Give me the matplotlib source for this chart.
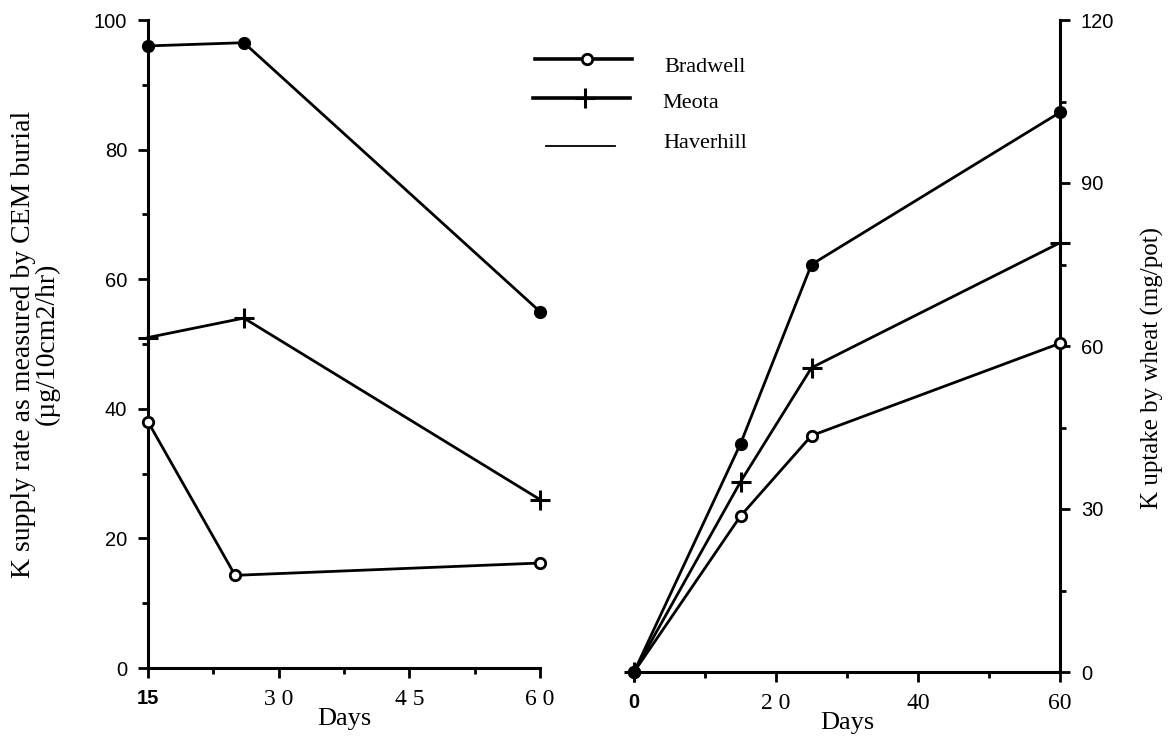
import matplotlib
matplotlib.use("Agg")
import matplotlib.pyplot as plt
from matplotlib.lines import Line2D
from matplotlib.ticker import FixedLocator

# ---------------- data ----------------
left_days_bradwell = [15, 25, 60]
left_days = [15, 26, 60]
left_bradwell = [38, 14.3, 16.2]
left_meota = [51, 54, 26]
left_haverhill = [96, 96.5, 55]

right_days = [0, 15, 25, 60]
right_bradwell = [0, 28.7, 43.5, 60.5]
right_meota = [0, 35, 56, 79]
right_haverhill = [0, 42, 75, 103]

left_xticks = [15, 30, 45, 60]
left_xticklabels = ["15", "3 0", "4 5", "6 0"]
left_xminor = [22.5, 37.5, 52.5]
left_yticks = [0, 20, 40, 60, 80, 100]
left_yminor = [10, 30, 50, 70, 90]
right_xticks = [0, 20, 40, 60]
right_xticklabels = ["0", "2 0", "40", "60"]
right_xminor = [10, 30, 50]
right_yticks = [0, 30, 60, 90, 120]
right_yminor = [15, 45, 75, 105]

series_names = ["Bradwell", "Meota", "Haverhill"]

SERIF = "Liberation Serif"
SANS = "Liberation Sans"

W, H = 1168, 746
fig = plt.figure(figsize=(W / 100, H / 100), dpi=100)

def px_rect(x0, x1, y_top, y_bot):
    return [x0 / W, 1 - y_bot / H, (x1 - x0) / W, (y_bot - y_top) / H]

axL = fig.add_axes(px_rect(148, 540, 20, 668))
axR = fig.add_axes(px_rect(634, 1060, 20, 672))

LW = 2.0
brad_kw = dict(color="black", lw=LW, marker="o", ms=7.5, mfc="white", mec="black", mew=2.0, clip_on=False, zorder=3)
meota_kw = dict(color="black", lw=LW, marker="+", ms=14, mew=2.2, clip_on=False, zorder=3)
hav_kw = dict(color="black", lw=LW, marker="o", ms=8.5, mfc="black", mec="black", clip_on=False, zorder=3)

# left panel
axL.plot(left_days_bradwell, left_bradwell, **brad_kw)
axL.plot(left_days, left_meota, **meota_kw)
axL.plot(left_days, left_haverhill, **hav_kw)
axL.set_xlim(15, 60)
axL.set_ylim(0, 100)
axL.spines["top"].set_visible(False)
axL.spines["right"].set_visible(False)
axL.xaxis.set_major_locator(FixedLocator(left_xticks))
axL.xaxis.set_minor_locator(FixedLocator(left_xminor))
axL.yaxis.set_major_locator(FixedLocator(left_yticks))
axL.yaxis.set_minor_locator(FixedLocator(left_yminor))
axL.set_xticklabels(left_xticklabels)

# right panel
axR.plot(right_days, right_bradwell, **brad_kw)
axR.plot(right_days, right_meota, **meota_kw)
axR.plot(right_days, right_haverhill, **hav_kw)
axR.set_xlim(0, 60)
axR.set_ylim(0, 120)
axR.spines["top"].set_visible(False)
axR.spines["left"].set_visible(False)
axR.yaxis.tick_right()
axR.yaxis.set_label_position("right")
axR.xaxis.set_major_locator(FixedLocator(right_xticks))
axR.xaxis.set_minor_locator(FixedLocator(right_xminor))
axR.yaxis.set_major_locator(FixedLocator(right_yticks))
axR.yaxis.set_minor_locator(FixedLocator(right_yminor))
axR.set_xticklabels(right_xticklabels)

for ax in (axL, axR):
    for s in ax.spines.values():
        s.set_linewidth(2.2)
    ax.tick_params(which="major", direction="out", length=7, width=2, pad=8)
    ax.tick_params(which="minor", direction="out", length=4, width=2)
    for lab in ax.get_yticklabels():
        lab.set_fontfamily(SANS)
        lab.set_fontsize(14.5)
    for i, lab in enumerate(ax.get_xticklabels()):
        if i == 0:
            lab.set_fontfamily(SANS)
            lab.set_fontweight("bold")
            lab.set_fontsize(14.5)
        else:
            lab.set_fontfamily(SERIF)
            lab.set_fontsize(17)
    ax.set_xlabel("Days", fontfamily=SERIF, fontsize=19, labelpad=-1)

axL.set_ylabel("K supply rate as measured by CEM burial\n(\u00b5g/10cm2/hr)",
               fontfamily=SERIF, fontsize=20, linespacing=0.95)
axL.yaxis.set_label_coords(-0.225, 0.5)
axR.set_ylabel("K uptake by wheat (mg/pot)", fontfamily=SERIF, fontsize=18,
               rotation=90)
axR.yaxis.set_label_coords(1.19, 0.466)

# legend (drawn in figure coordinates)
def fy(py):
    return 1 - py / H

def fx(px):
    return px / W

fig.add_artist(Line2D([fx(535), fx(632)], [fy(59), fy(59)], color="black", lw=2.6, transform=fig.transFigure))
fig.add_artist(Line2D([fx(587)], [fy(59)], color="black", marker="o", ms=7.5, mfc="white", mew=2.0, lw=0, transform=fig.transFigure))
fig.add_artist(Line2D([fx(533), fx(630)], [fy(98), fy(98)], color="black", lw=2.6, transform=fig.transFigure))
fig.add_artist(Line2D([fx(585)], [fy(98)], color="black", marker="+", ms=14, mew=2.2, lw=0, transform=fig.transFigure))
fig.add_artist(Line2D([fx(546), fx(615)], [fy(146), fy(146)], color="black", lw=1.3, transform=fig.transFigure))

fig.text(fx(664), fy(67), series_names[0], fontfamily=SERIF, fontsize=16, va="center", ha="left")
fig.text(fx(662), fy(104), series_names[1], fontfamily=SERIF, fontsize=16, va="center", ha="left")
fig.text(fx(663), fy(143), series_names[2], fontfamily=SERIF, fontsize=16, va="center", ha="left")

fig.savefig("out.png", dpi=100)
